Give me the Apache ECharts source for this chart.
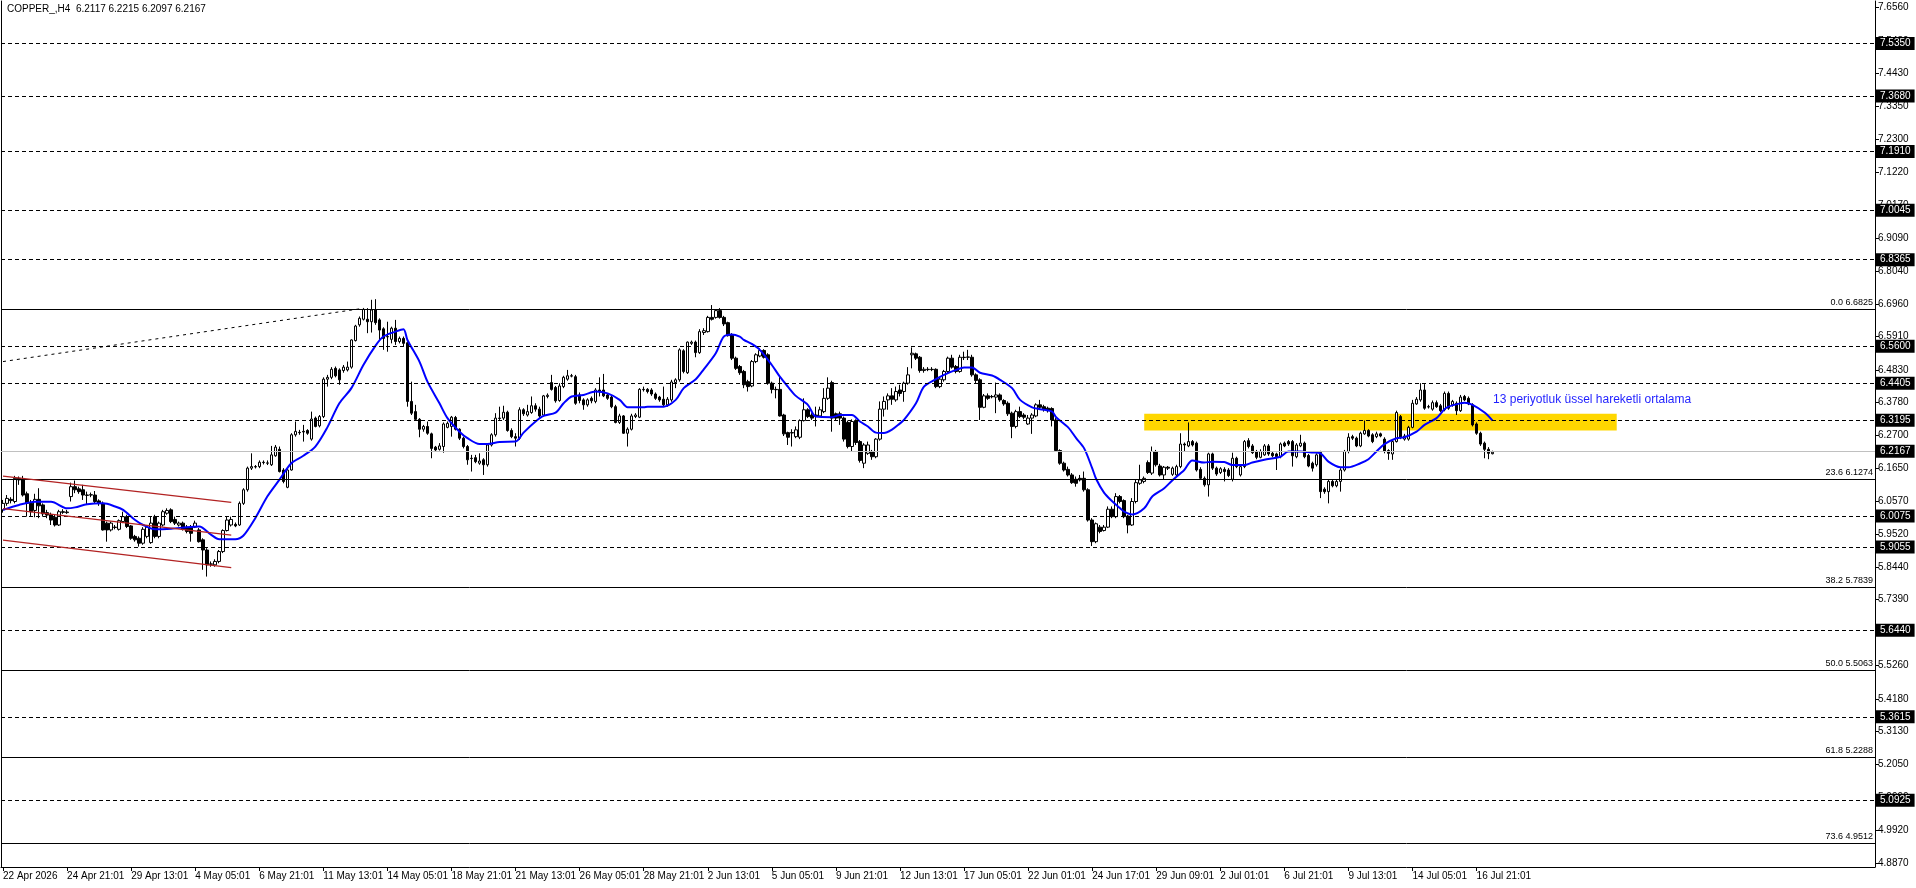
<!DOCTYPE html>
<html>
<head>
<meta charset="utf-8">
<title>COPPER_,H4</title>
<script src="https://cdn.jsdelivr.net/npm/echarts@6/dist/echarts.min.js"></script>
<style>
html, body { margin: 0; padding: 0; background: #fff; }
#chart { width: 1916px; height: 888px; }
</style>
</head>
<body>
<div id="chart"></div>
<script>
// H4 bars
const opens = [
  6.030, 6.051, 6.064, 6.057, 6.132, 6.129, 6.082, 6.051, 6.028, 6.064,
  6.046, 6.021, 6.014, 6.006, 5.981, 6.024, 6.021, 6.073, 6.105, 6.098,
  6.095, 6.078, 6.078, 6.078, 6.059, 6.051, 5.987, 5.965, 5.974, 5.967,
  5.992, 6.008, 5.978, 5.944, 5.938, 5.922, 5.944, 5.924, 6.008, 5.944,
  5.981, 6.019, 6.030, 5.999, 5.981, 5.987, 5.974, 5.974, 5.974, 5.965,
  5.933, 5.900, 5.855, 5.852, 5.863, 5.895, 5.963, 5.981, 5.983, 5.981,
  6.051, 6.095, 6.165, 6.170, 6.170, 6.184, 6.181, 6.176, 6.205, 6.226,
  6.159, 6.103, 6.159, 6.273, 6.281, 6.284, 6.287, 6.259, 6.327, 6.302,
  6.332, 6.453, 6.459, 6.488, 6.483, 6.481, 6.483, 6.492, 6.578, 6.629,
  6.647, 6.647, 6.639, 6.677, 6.645, 6.616, 6.591, 6.582, 6.618, 6.575,
  6.585, 6.571, 6.381, 6.348, 6.323, 6.291, 6.300, 6.276, 6.233, 6.226,
  6.235, 6.297, 6.300, 6.329, 6.291, 6.262, 6.235, 6.197, 6.199, 6.181,
  6.192, 6.176, 6.240, 6.273, 6.327, 6.327, 6.346, 6.287, 6.267, 6.262,
  6.354, 6.337, 6.345, 6.367, 6.356, 6.337, 6.397, 6.442, 6.426, 6.384,
  6.429, 6.453, 6.464, 6.461, 6.402, 6.386, 6.370, 6.391, 6.381, 6.418,
  6.418, 6.402, 6.395, 6.364, 6.313, 6.334, 6.278, 6.291, 6.332, 6.330,
  6.420, 6.420, 6.418, 6.405, 6.395, 6.388, 6.370, 6.386, 6.442, 6.451,
  6.545, 6.474, 6.569, 6.573, 6.539, 6.604, 6.607, 6.653, 6.653, 6.675,
  6.653, 6.636, 6.596, 6.521, 6.494, 6.478, 6.445, 6.431, 6.510, 6.528,
  6.546, 6.532, 6.440, 6.420, 6.420, 6.337, 6.280, 6.280, 6.267, 6.265,
  6.319, 6.354, 6.337, 6.337, 6.334, 6.348, 6.391, 6.442, 6.341, 6.341,
  6.327, 6.313, 6.235, 6.319, 6.251, 6.181, 6.213, 6.219, 6.202, 6.259,
  6.356, 6.386, 6.399, 6.386, 6.418, 6.413, 6.440, 6.532, 6.535, 6.524,
  6.481, 6.485, 6.485, 6.485, 6.429, 6.451, 6.478, 6.521, 6.494, 6.478,
  6.524, 6.524, 6.524, 6.467, 6.451, 6.362, 6.399, 6.397, 6.395, 6.402,
  6.384, 6.375, 6.343, 6.300, 6.348, 6.337, 6.308, 6.327, 6.334, 6.370,
  6.364, 6.359, 6.358, 6.321, 6.222, 6.181, 6.161, 6.143, 6.129, 6.132,
  6.132, 6.095, 5.997, 5.927, 5.974, 5.963, 5.974, 6.032, 6.008, 6.073,
  6.060, 6.010, 5.981, 6.057, 6.116, 6.122, 6.183, 6.149, 6.219, 6.172,
  6.143, 6.168, 6.145, 6.143, 6.170, 6.243, 6.237, 6.251, 6.246, 6.161,
  6.132, 6.111, 6.211, 6.165, 6.151, 6.161, 6.159, 6.129, 6.197, 6.143,
  6.170, 6.254, 6.237, 6.219, 6.200, 6.208, 6.237, 6.213, 6.211, 6.202,
  6.246, 6.251, 6.251, 6.202, 6.237, 6.246, 6.206, 6.181, 6.176, 6.216,
  6.097, 6.089, 6.122, 6.108, 6.122, 6.159, 6.219, 6.267, 6.262, 6.237,
  6.276, 6.287, 6.273, 6.267, 6.276, 6.259, 6.222, 6.211, 6.251, 6.332,
  6.259, 6.259, 6.297, 6.373, 6.386, 6.418, 6.364, 6.356, 6.377, 6.367,
  6.354, 6.407, 6.370, 6.375, 6.351, 6.397, 6.391, 6.370, 6.308, 6.278,
  6.246, 6.226, 6.2117
]
const closes = [
  6.051, 6.067, 6.060, 6.132, 6.127, 6.078, 6.051, 6.024, 6.064, 6.043,
  6.017, 6.013, 5.997, 5.981, 6.024, 6.022, 6.023, 6.105, 6.095, 6.089,
  6.078, 6.077, 6.079, 6.057, 6.051, 5.965, 5.965, 5.987, 5.973, 5.995,
  6.008, 5.976, 5.938, 5.933, 5.922, 5.967, 5.974, 5.987, 5.944, 5.987,
  6.024, 6.028, 5.992, 5.987, 5.987, 5.967, 5.960, 5.954, 5.987, 5.927,
  5.900, 5.852, 5.854, 5.863, 5.895, 5.963, 5.997, 5.999, 5.978, 6.051,
  6.095, 6.165, 6.170, 6.169, 6.184, 6.183, 6.182, 6.208, 6.233, 6.154,
  6.122, 6.159, 6.273, 6.284, 6.280, 6.282, 6.278, 6.324, 6.300, 6.332,
  6.453, 6.459, 6.485, 6.464, 6.451, 6.492, 6.492, 6.580, 6.625, 6.650,
  6.679, 6.639, 6.677, 6.636, 6.612, 6.585, 6.590, 6.618, 6.575, 6.585,
  6.569, 6.381, 6.343, 6.323, 6.291, 6.300, 6.278, 6.229, 6.224, 6.237,
  6.308, 6.310, 6.330, 6.291, 6.262, 6.235, 6.192, 6.196, 6.186, 6.188,
  6.176, 6.240, 6.273, 6.327, 6.326, 6.346, 6.287, 6.267, 6.262, 6.354,
  6.341, 6.348, 6.367, 6.356, 6.334, 6.399, 6.401, 6.420, 6.383, 6.431,
  6.459, 6.464, 6.463, 6.375, 6.384, 6.370, 6.386, 6.383, 6.418, 6.413,
  6.399, 6.391, 6.364, 6.313, 6.334, 6.278, 6.291, 6.334, 6.337, 6.420,
  6.419, 6.413, 6.405, 6.391, 6.386, 6.370, 6.388, 6.444, 6.451, 6.548,
  6.478, 6.573, 6.573, 6.539, 6.607, 6.610, 6.653, 6.647, 6.675, 6.653,
  6.632, 6.594, 6.521, 6.488, 6.474, 6.435, 6.429, 6.510, 6.532, 6.546,
  6.524, 6.440, 6.420, 6.419, 6.334, 6.276, 6.265, 6.279, 6.289, 6.319,
  6.354, 6.332, 6.327, 6.332, 6.354, 6.391, 6.424, 6.327, 6.327, 6.327,
  6.259, 6.235, 6.316, 6.248, 6.190, 6.240, 6.240, 6.202, 6.259, 6.356,
  6.381, 6.399, 6.388, 6.413, 6.407, 6.440, 6.467, 6.537, 6.521, 6.481,
  6.485, 6.484, 6.484, 6.429, 6.453, 6.478, 6.521, 6.492, 6.478, 6.524,
  6.523, 6.525, 6.467, 6.449, 6.362, 6.399, 6.391, 6.396, 6.402, 6.386,
  6.373, 6.341, 6.300, 6.348, 6.332, 6.330, 6.327, 6.337, 6.370, 6.362,
  6.356, 6.351, 6.321, 6.222, 6.181, 6.159, 6.143, 6.118, 6.116, 6.127,
  6.095, 5.997, 5.927, 5.985, 5.960, 5.974, 6.032, 6.008, 6.073, 6.057,
  6.008, 5.981, 6.057, 6.118, 6.127, 6.132, 6.151, 6.219, 6.176, 6.143,
  6.168, 6.165, 6.165, 6.170, 6.243, 6.240, 6.251, 6.240, 6.159, 6.132,
  6.111, 6.211, 6.165, 6.146, 6.163, 6.154, 6.141, 6.197, 6.170, 6.170,
  6.251, 6.235, 6.215, 6.200, 6.219, 6.237, 6.211, 6.205, 6.202, 6.243,
  6.237, 6.243, 6.205, 6.240, 6.246, 6.202, 6.172, 6.165, 6.208, 6.089,
  6.089, 6.122, 6.108, 6.122, 6.159, 6.219, 6.265, 6.262, 6.237, 6.278,
  6.287, 6.269, 6.251, 6.276, 6.269, 6.219, 6.213, 6.251, 6.345, 6.265,
  6.269, 6.297, 6.375, 6.388, 6.418, 6.359, 6.363, 6.377, 6.364, 6.351,
  6.407, 6.359, 6.381, 6.351, 6.395, 6.386, 6.373, 6.305, 6.278, 6.243,
  6.226, 6.213, 6.2167
]
const lows = [
  6.021, 6.043, 6.051, 6.051, 6.111, 6.073, 6.008, 6.008, 6.006, 6.003,
  6.008, 6.003, 5.981, 5.976, 5.978, 6.017, 6.017, 6.057, 6.084, 6.082,
  6.062, 6.046, 6.071, 6.051, 6.043, 5.963, 5.927, 5.960, 5.967, 5.963,
  5.987, 5.971, 5.933, 5.927, 5.911, 5.917, 5.938, 5.920, 5.938, 5.938,
  5.976, 6.014, 5.987, 5.981, 5.976, 5.963, 5.954, 5.927, 5.971, 5.924,
  5.836, 5.814, 5.846, 5.846, 5.857, 5.890, 5.960, 5.976, 5.974, 5.978,
  6.046, 6.089, 6.159, 6.164, 6.165, 6.177, 6.175, 6.172, 6.202, 6.151,
  6.116, 6.100, 6.157, 6.267, 6.273, 6.251, 6.273, 6.254, 6.297, 6.297,
  6.327, 6.429, 6.453, 6.459, 6.435, 6.474, 6.478, 6.487, 6.575, 6.623,
  6.643, 6.602, 6.604, 6.629, 6.580, 6.548, 6.542, 6.569, 6.564, 6.569,
  6.559, 6.364, 6.337, 6.319, 6.265, 6.283, 6.273, 6.197, 6.219, 6.222,
  6.215, 6.294, 6.267, 6.287, 6.256, 6.229, 6.176, 6.154, 6.181, 6.176,
  6.143, 6.170, 6.235, 6.267, 6.321, 6.321, 6.283, 6.262, 6.235, 6.256,
  6.334, 6.332, 6.341, 6.348, 6.327, 6.332, 6.391, 6.416, 6.377, 6.380,
  6.424, 6.448, 6.459, 6.370, 6.375, 6.354, 6.364, 6.375, 6.375, 6.397,
  6.395, 6.386, 6.359, 6.310, 6.308, 6.276, 6.235, 6.287, 6.327, 6.327,
  6.413, 6.407, 6.399, 6.386, 6.380, 6.364, 6.364, 6.380, 6.424, 6.445,
  6.472, 6.470, 6.564, 6.524, 6.535, 6.596, 6.604, 6.643, 6.649, 6.649,
  6.625, 6.591, 6.515, 6.483, 6.467, 6.424, 6.413, 6.427, 6.505, 6.524,
  6.520, 6.435, 6.407, 6.391, 6.332, 6.269, 6.240, 6.235, 6.262, 6.259,
  6.316, 6.327, 6.321, 6.300, 6.330, 6.343, 6.386, 6.283, 6.319, 6.305,
  6.251, 6.229, 6.219, 6.240, 6.183, 6.165, 6.208, 6.192, 6.197, 6.254,
  6.332, 6.354, 6.370, 6.380, 6.397, 6.380, 6.435, 6.488, 6.515, 6.474,
  6.474, 6.479, 6.479, 6.424, 6.424, 6.445, 6.472, 6.487, 6.472, 6.474,
  6.515, 6.515, 6.461, 6.440, 6.321, 6.359, 6.386, 6.391, 6.343, 6.380,
  6.367, 6.334, 6.262, 6.294, 6.327, 6.323, 6.305, 6.276, 6.330, 6.356,
  6.348, 6.345, 6.300, 6.219, 6.176, 6.154, 6.138, 6.114, 6.105, 6.122,
  6.089, 5.992, 5.913, 5.922, 5.954, 5.960, 5.971, 6.003, 6.003, 6.051,
  6.003, 5.954, 5.978, 6.051, 6.111, 6.116, 6.146, 6.143, 6.170, 6.138,
  6.127, 6.159, 6.140, 6.138, 6.165, 6.219, 6.233, 6.235, 6.154, 6.127,
  6.105, 6.073, 6.159, 6.140, 6.146, 6.122, 6.136, 6.122, 6.165, 6.138,
  6.165, 6.229, 6.211, 6.194, 6.197, 6.205, 6.205, 6.200, 6.159, 6.197,
  6.233, 6.237, 6.170, 6.197, 6.233, 6.197, 6.168, 6.154, 6.170, 6.068,
  6.082, 6.051, 6.103, 6.103, 6.089, 6.154, 6.213, 6.256, 6.233, 6.233,
  6.273, 6.265, 6.246, 6.262, 6.265, 6.213, 6.192, 6.192, 6.248, 6.259,
  6.254, 6.254, 6.294, 6.370, 6.380, 6.354, 6.358, 6.351, 6.360, 6.347,
  6.349, 6.354, 6.364, 6.337, 6.347, 6.382, 6.369, 6.300, 6.273, 6.237,
  6.197, 6.194, 6.2097
]
const highs = [
  6.062, 6.078, 6.071, 6.140, 6.138, 6.140, 6.089, 6.062, 6.082, 6.100,
  6.051, 6.030, 6.021, 6.014, 6.030, 6.032, 6.030, 6.118, 6.125, 6.105,
  6.111, 6.089, 6.086, 6.091, 6.064, 6.057, 5.992, 5.992, 5.981, 5.999,
  6.024, 6.014, 5.981, 5.949, 5.944, 5.974, 5.981, 6.008, 6.014, 5.992,
  6.030, 6.035, 6.035, 6.008, 5.992, 5.992, 5.981, 5.981, 5.995, 5.971,
  5.938, 5.906, 5.863, 5.870, 5.900, 5.967, 6.010, 6.008, 5.989, 6.057,
  6.100, 6.170, 6.213, 6.175, 6.190, 6.190, 6.190, 6.237, 6.240, 6.235,
  6.165, 6.165, 6.278, 6.316, 6.289, 6.305, 6.291, 6.348, 6.332, 6.337,
  6.459, 6.467, 6.492, 6.494, 6.488, 6.499, 6.510, 6.582, 6.629, 6.656,
  6.683, 6.683, 6.710, 6.712, 6.650, 6.621, 6.639, 6.623, 6.645, 6.591,
  6.591, 6.575, 6.445, 6.370, 6.327, 6.305, 6.316, 6.280, 6.237, 6.246,
  6.313, 6.316, 6.334, 6.334, 6.294, 6.267, 6.240, 6.208, 6.208, 6.213,
  6.197, 6.246, 6.278, 6.343, 6.364, 6.367, 6.351, 6.294, 6.278, 6.362,
  6.359, 6.370, 6.397, 6.375, 6.364, 6.402, 6.407, 6.467, 6.431, 6.440,
  6.464, 6.483, 6.470, 6.467, 6.410, 6.391, 6.391, 6.397, 6.424, 6.459,
  6.470, 6.407, 6.399, 6.370, 6.341, 6.337, 6.297, 6.341, 6.343, 6.424,
  6.429, 6.424, 6.424, 6.410, 6.399, 6.429, 6.395, 6.451, 6.456, 6.553,
  6.550, 6.575, 6.578, 6.578, 6.615, 6.618, 6.658, 6.693, 6.679, 6.683,
  6.658, 6.639, 6.602, 6.526, 6.499, 6.483, 6.451, 6.515, 6.537, 6.553,
  6.550, 6.537, 6.445, 6.429, 6.461, 6.341, 6.283, 6.291, 6.300, 6.323,
  6.391, 6.359, 6.343, 6.364, 6.364, 6.424, 6.459, 6.448, 6.345, 6.348,
  6.332, 6.319, 6.323, 6.323, 6.256, 6.246, 6.251, 6.224, 6.262, 6.381,
  6.397, 6.407, 6.424, 6.429, 6.435, 6.445, 6.492, 6.556, 6.539, 6.528,
  6.492, 6.492, 6.492, 6.488, 6.459, 6.483, 6.526, 6.532, 6.499, 6.532,
  6.542, 6.548, 6.532, 6.472, 6.456, 6.405, 6.407, 6.402, 6.442, 6.407,
  6.388, 6.381, 6.348, 6.354, 6.364, 6.343, 6.337, 6.343, 6.375, 6.386,
  6.370, 6.364, 6.362, 6.327, 6.226, 6.186, 6.170, 6.149, 6.138, 6.143,
  6.154, 6.100, 6.003, 5.989, 5.981, 5.981, 6.041, 6.041, 6.084, 6.078,
  6.064, 6.014, 6.068, 6.127, 6.176, 6.138, 6.190, 6.235, 6.224, 6.179,
  6.172, 6.172, 6.170, 6.176, 6.278, 6.248, 6.313, 6.256, 6.251, 6.168,
  6.138, 6.215, 6.215, 6.170, 6.168, 6.168, 6.165, 6.215, 6.202, 6.176,
  6.256, 6.262, 6.243, 6.224, 6.226, 6.243, 6.243, 6.219, 6.215, 6.248,
  6.251, 6.256, 6.256, 6.246, 6.273, 6.251, 6.211, 6.186, 6.213, 6.221,
  6.103, 6.127, 6.127, 6.127, 6.165, 6.224, 6.278, 6.273, 6.267, 6.283,
  6.319, 6.291, 6.278, 6.283, 6.280, 6.265, 6.226, 6.256, 6.351, 6.337,
  6.276, 6.302, 6.386, 6.395, 6.440, 6.437, 6.370, 6.384, 6.384, 6.373,
  6.413, 6.413, 6.386, 6.381, 6.402, 6.402, 6.397, 6.375, 6.313, 6.283,
  6.251, 6.233, 6.2215
]

// 13-period EMA, sampled along the blue line
const emaBars = [
  0, 4, 8, 12, 16, 18, 21, 25, 28, 30, 33, 35, 38, 42, 46, 49, 52, 54, 58, 60,
  63, 66, 69, 72, 75, 78, 81, 84, 87, 90, 93, 95, 98, 100, 101, 104, 106, 109, 111, 114,
  116, 119, 121, 124, 128, 130, 133, 135, 138, 140, 142, 145, 148, 151, 154, 156, 160, 161, 165, 168,
  170, 173, 175, 178, 180, 182, 184, 185, 187, 189, 192, 194, 196, 198, 201, 203, 207, 209, 212, 214,
  216, 218, 220, 222, 224, 225, 228, 230, 233, 235, 238, 240, 242, 244, 247, 249, 252, 254, 257, 259,
  262, 263, 266, 268, 270, 272, 273, 275, 277, 279, 280, 282, 285, 287, 290, 292, 295, 297, 300, 302,
  305, 307, 310, 312, 315, 319, 321, 324, 327, 329, 331, 334, 336, 339, 341, 343, 345, 348, 350, 353,
  355, 358, 360, 361, 364, 365, 367, 370, 372
]
const emaValues = [
  6.030, 6.046, 6.056, 6.056, 6.035, 6.038, 6.048, 6.051, 6.041, 6.030, 5.997, 5.981, 5.967, 5.969, 5.974, 5.976, 5.949, 5.935, 5.935, 5.946,
  6.003, 6.073, 6.127, 6.181, 6.205, 6.235, 6.297, 6.375, 6.424, 6.499, 6.561, 6.591, 6.607, 6.615, 6.580, 6.510, 6.445, 6.375, 6.327, 6.283,
  6.262, 6.243, 6.243, 6.250, 6.251, 6.280, 6.316, 6.334, 6.345, 6.375, 6.397, 6.402, 6.413, 6.407, 6.386, 6.362, 6.362, 6.364, 6.364, 6.386,
  6.424, 6.453, 6.485, 6.537, 6.591, 6.598, 6.591, 6.580, 6.567, 6.548, 6.499, 6.461, 6.429, 6.399, 6.370, 6.332, 6.330, 6.337, 6.337, 6.316,
  6.300, 6.280, 6.279, 6.290, 6.310, 6.321, 6.375, 6.429, 6.453, 6.467, 6.483, 6.491, 6.491, 6.474, 6.465, 6.451, 6.424, 6.386, 6.362, 6.356,
  6.348, 6.330, 6.297, 6.262, 6.229, 6.165, 6.130, 6.085, 6.058, 6.035, 6.024, 6.015, 6.035, 6.073, 6.100, 6.125, 6.159, 6.190, 6.183, 6.186,
  6.185, 6.175, 6.175, 6.183, 6.192, 6.202, 6.219, 6.219, 6.216, 6.213, 6.186, 6.168, 6.168, 6.181, 6.194, 6.219, 6.243, 6.262, 6.265, 6.283,
  6.305, 6.327, 6.356, 6.364, 6.375, 6.377, 6.370, 6.345, 6.319
]

const tickLabels = [
  '22 Apr 2026', '24 Apr 21:01', '29 Apr 13:01', '4 May 05:01', '6 May 21:01', '11 May 13:01',
  '14 May 05:01', '18 May 21:01', '21 May 13:01', '26 May 05:01', '28 May 21:01', '2 Jun 13:01',
  '5 Jun 05:01', '9 Jun 21:01', '12 Jun 13:01', '17 Jun 05:01', '22 Jun 01:01', '24 Jun 17:01',
  '29 Jun 09:01', '2 Jul 01:01', '6 Jul 21:01', '9 Jul 13:01', '14 Jul 05:01', '16 Jul 21:01'
]
const barsPerTick = 16
const totalSlots = 468

const priceTicks = [
  7.6560, 7.5480, 7.4430, 7.3350, 7.2300, 7.1220, 7.0170, 6.9090, 6.8040, 6.6960,
  6.5910, 6.4830, 6.3780, 6.2700, 6.1650, 6.0570, 5.9520, 5.8440, 5.7390, 5.6310,
  5.5260, 5.4180, 5.3130, 5.2050, 5.0990, 4.9920, 4.8870
]
const levelLines = [7.5350, 7.3680, 7.1910, 7.0045, 6.8365, 6.5600, 6.4405, 6.3195, 6.0075, 5.9055, 5.6440, 5.3615, 5.0925]
const fibLevels = [0.0, 23.6, 38.2, 50.0, 61.8, 73.6]
const fibPrices = [6.6825, 6.1274, 5.7839, 5.5063, 5.2288, 4.9512]
const bidPrice = 6.2167

const channelBars = [0, 57]
const channelUpper = [6.139, 6.054]
const channelMid = [6.034, 5.948]
const channelLower = [5.932, 5.843]
const trendBars = [0, 90]
const trendValues = [6.510, 6.6825]
const zoneBars = [285, 403]
const zoneValues = [6.341, 6.287]
const noteBar = 372
const noteValue = 6.386
const noteText = '13 periyotluk üssel hareketli ortalama'

const FONT = '"Liberation Sans", Arial, sans-serif'
const last = opens.length - 1
const categories = []
for (let i = 0; i < totalSlots; i++) categories.push(String(i))
const candles = opens.map((o, i) => [o, closes[i], lows[i], highs[i]])
const ema = emaBars.map((b, i) => [b, emaValues[i]])
const isTick = i => i % barsPerTick === 0 && i / barsPerTick < tickLabels.length
const seg = (bars, vals) => [{ coord: [bars[0], vals[0]] }, { coord: [bars[1], vals[1]] }]

const chart = echarts.init(document.getElementById('chart'))
chart.setOption({
  animation: false,
  backgroundColor: '#fff',
  textStyle: { fontFamily: FONT },
  title: {
    text: 'COPPER_,H4  ' + [opens[last], highs[last], lows[last], closes[last]].map(v => v.toFixed(4)).join(' '),
    left: 7,
    top: 4,
    padding: 0,
    textStyle: { fontSize: 10, fontWeight: 'normal', color: '#000', fontFamily: FONT }
  },
  grid: { left: 1, right: 41, top: 1, bottom: 21, containLabel: false, outerBoundsMode: 'none' },
  xAxis: {
    type: 'category',
    data: categories,
    boundaryGap: true,
    axisLine: { lineStyle: { color: '#000', width: 1 } },
    axisTick: { show: true, alignWithLabel: true, interval: isTick, length: 4, lineStyle: { color: '#000' } },
    axisLabel: {
      interval: isTick,
      formatter: (v, i) => tickLabels[i / barsPerTick] || '',
      align: 'left',
      margin: 4,
      fontSize: 10,
      color: '#000',
      fontFamily: FONT
    },
    splitLine: { show: false }
  },
  yAxis: [{
    type: 'value',
    position: 'right',
    min: 4.8738,
    max: 7.6773,
    scale: true,
    splitLine: { show: false },
    axisLine: { show: true, lineStyle: { color: '#000', width: 1 } },
    axisTick: { show: true, length: 4, customValues: priceTicks, lineStyle: { color: '#000' } },
    axisLabel: {
      customValues: priceTicks,
      formatter: v => v.toFixed(4),
      margin: 3,
      fontSize: 10,
      color: '#000',
      fontFamily: FONT
    }
  }, {
    type: 'value',
    position: 'left',
    min: 4.8738,
    max: 7.6773,
    splitLine: { show: false },
    axisLine: { show: true, lineStyle: { color: '#000', width: 1 } },
    axisTick: { show: false },
    axisLabel: { show: false }
  }],
  series: [{
    // yellow zone and horizontal levels
    type: 'line',
    data: [],
    z: 1,
    markArea: {
      silent: true,
      itemStyle: { color: '#ffd700' },
      data: [[{ coord: [zoneBars[0], zoneValues[0]] }, { coord: [zoneBars[1], zoneValues[1]] }]]
    },
    markLine: {
      silent: true,
      symbol: ['none', 'none'],
      data: [
        ...levelLines.map(v => ({
          yAxis: v,
          lineStyle: { color: '#000', width: 1, type: [4, 3] },
          label: {
            show: true, position: 'end', distance: 1, formatter: v.toFixed(4),
            backgroundColor: '#000', color: '#fff', padding: [2, 4, 1, 4], fontSize: 10, fontFamily: FONT
          }
        })),
        ...fibPrices.map((v, i) => ({
          yAxis: v,
          lineStyle: { color: '#000', width: 1, type: 'solid' },
          label: {
            show: true, position: 'insideEndTop', distance: 2,
            formatter: fibLevels[i].toFixed(1) + ' ' + v.toFixed(4),
            color: '#000', fontSize: 9, fontFamily: FONT
          }
        })),
        {
          yAxis: bidPrice,
          lineStyle: { color: '#c0c0c0', width: 1, type: 'solid' },
          label: {
            show: true, position: 'end', distance: 1, formatter: bidPrice.toFixed(4),
            backgroundColor: '#000', color: '#fff', padding: [2, 4, 1, 4], fontSize: 10, fontFamily: FONT
          }
        },
        [...seg(channelBars, channelUpper)].map(p => p),
        seg(channelBars, channelMid),
        seg(channelBars, channelLower),
        seg(trendBars, trendValues)
      ].map((d, i, arr) => {
        if (!Array.isArray(d)) return d
        const isTrend = i === arr.length - 1
        d[0].lineStyle = isTrend
          ? { color: '#000', width: 1, type: [3, 4] }
          : { color: '#b22222', width: 1.2, type: 'solid' }
        d[0].label = { show: false }
        return d
      })
    }
  }, {
    type: 'candlestick',
    data: candles,
    barWidth: 3,
    z: 3,
    itemStyle: {
      color: '#fff',
      color0: '#000',
      borderColor: '#000',
      borderColor0: '#000',
      borderWidth: 1
    }
  }, {
    type: 'line',
    data: ema,
    z: 4,
    showSymbol: false,
    smooth: 0.3,
    connectNulls: true,
    lineStyle: { color: '#0000ff', width: 2 },
    itemStyle: { color: '#0000ff' },
    markPoint: {
      silent: true,
      symbol: 'circle',
      symbolSize: 1,
      itemStyle: { color: 'rgba(0,0,0,0)' },
      data: [{ coord: [noteBar, noteValue] }],
      label: {
        show: true, position: 'right', distance: 0, formatter: noteText,
        color: '#1f1fff', fontSize: 12, fontFamily: FONT
      }
    }
  }]
})
</script>
</body>
</html>
